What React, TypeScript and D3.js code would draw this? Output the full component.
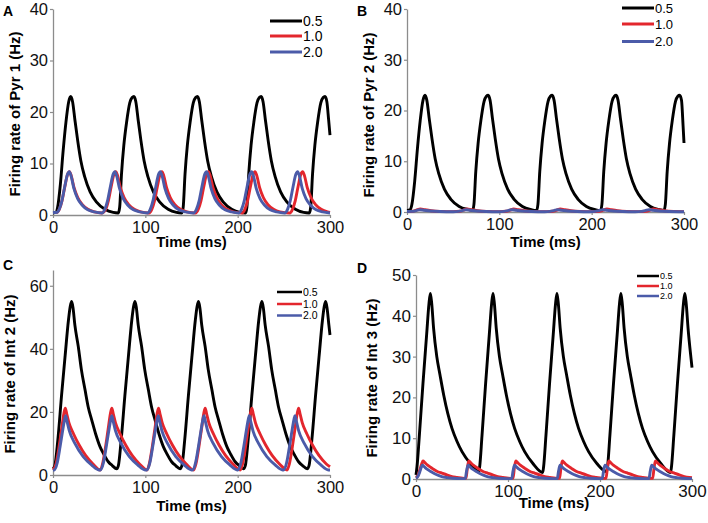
import React, { useRef, useEffect } from "react";
import * as d3 from "d3";

type Pt = [number, number];

// ---- data (time in ms, rate in Hz) ----
const timeTicks = [0, 100, 200, 300];
const legendLabels = ["0.5", "1.0", "2.0"];
const seriesColors = ["#000000", "#e3262d", "#4b5ba9"];
const pyrTicks = [0, 10, 20, 30, 40];
const int2Ticks = [0, 20, 40, 60];
const int3Ticks = [0, 10, 20, 30, 40, 50];

// A: Pyr 1
const pyr1At05: Pt[] = [
  [0, 0.4], [3, 0.5], [5, 1.5], [8, 6], [11, 12.5], [14, 18], [17, 22], [19.2, 23],
  [21.2, 22], [23.7, 18.5], [26.7, 14.5], [30.2, 10.5], [34.2, 7.5], [40.2, 4.5], [47.2, 2.5], [56.2, 1.1], [65.2, 0.5], [70.7, 0.4],
  [72.2, 1.5], [74.2, 8], [76.7, 13.5], [79.7, 18], [83.2, 21.8], [85.7, 22.8], [87.7, 23],
  [89.7, 22], [92.2, 18.5], [95.2, 14.5], [98.7, 10.5], [102.7, 7.5], [108.7, 4.5], [115.7, 2.5], [124.7, 1.1], [133.7, 0.5], [139.5, 0.4],
  [141, 1.5], [143, 8], [145.5, 13.5], [148.5, 18], [152, 21.8], [154.5, 22.8], [156.5, 23],
  [158.5, 22], [161, 18.5], [164, 14.5], [167.5, 10.5], [171.5, 7.5], [177.5, 4.5], [184.5, 2.5], [193.5, 1.1], [202.5, 0.5], [208.5, 0.4],
  [210, 1.5], [212, 8], [214.5, 13.5], [217.5, 18], [221, 21.8], [223.5, 22.8], [225.5, 23],
  [227.5, 22], [230, 18.5], [233, 14.5], [236.5, 10.5], [240.5, 7.5], [246.5, 4.5], [253.5, 2.5], [262.5, 1.1], [271.5, 0.5], [277.6, 0.4],
  [279.1, 1.5], [281.1, 8], [283.6, 13.5], [286.6, 18], [290.1, 21.8], [292.6, 22.8], [294.6, 23],
  [296.6, 22], [298.5, 18.5], [300, 15.5],
];
const pyr1At10: Pt[] = [
  [0, 0.5], [3.8, 0.5], [6.8, 1.1], [9.8, 2.8], [12.8, 5.5], [15.8, 7.9], [17.8, 8.4],
  [19.8, 7.6], [22.8, 5.3], [26.8, 3.4], [31.8, 2], [37.8, 1.1], [44.8, 0.6], [53, 0.4],
  [57, 1.1], [60, 2.8], [63, 5.5], [66, 7.9], [68, 8.4],
  [70, 7.6], [73, 5.3], [77, 3.4], [82, 2], [88, 1.1], [95, 0.6], [104, 0.4],
  [107, 1.1], [110, 2.8], [113, 5.5], [116, 7.9], [118, 8.4],
  [120, 7.6], [123, 5.3], [127, 3.4], [132, 2], [138, 1.1], [145, 0.6], [154.3, 0.4],
  [157.3, 1.1], [160.3, 2.8], [163.3, 5.5], [166.3, 7.9], [168.3, 8.4],
  [170.3, 7.6], [173.3, 5.3], [177.3, 3.4], [182.3, 2], [188.3, 1.1], [195.3, 0.6], [204.8, 0.4],
  [207.8, 1.1], [210.8, 2.8], [213.8, 5.5], [216.8, 7.9], [218.8, 8.4],
  [220.8, 7.6], [223.8, 5.3], [227.8, 3.4], [232.8, 2], [238.8, 1.1], [245.8, 0.6], [256.4, 0.4],
  [259.4, 1.1], [262.4, 2.8], [265.4, 5.5], [268.4, 7.9], [270.4, 8.4],
  [272.4, 7.6], [275.4, 5.3], [279.4, 3.4], [284.4, 2], [290.4, 1.1], [297.4, 0.6], [300, 0.5],
];
const pyr1At20: Pt[] = [
  [0, 0.5], [3.7, 0.5], [6.7, 1.1], [9.7, 2.8], [12.7, 5.5], [15.7, 7.9], [17.7, 8.4],
  [19.7, 7.5], [22.7, 5.1], [26.7, 3.2], [31.7, 1.9], [37.7, 1], [44.7, 0.6], [53.1, 0.4],
  [56.1, 1.1], [59.1, 2.8], [62.1, 5.5], [65.1, 7.9], [67.1, 8.4],
  [69.1, 7.5], [72.1, 5.1], [76.1, 3.2], [81.1, 1.9], [87.1, 1], [94.1, 0.6], [102.3, 0.4],
  [105.3, 1.1], [108.3, 2.8], [111.3, 5.5], [114.3, 7.9], [116.3, 8.4],
  [118.3, 7.5], [121.3, 5.1], [125.3, 3.2], [130.3, 1.9], [136.3, 1], [143.3, 0.6], [152.3, 0.4],
  [155.3, 1.1], [158.3, 2.8], [161.3, 5.5], [164.3, 7.9], [166.3, 8.4],
  [168.3, 7.5], [171.3, 5.1], [175.3, 3.2], [180.3, 1.9], [186.3, 1], [193.3, 0.6], [201.2, 0.4],
  [204.2, 1.1], [207.2, 2.8], [210.2, 5.5], [213.2, 7.9], [215.2, 8.4],
  [217.2, 7.5], [220.2, 5.1], [224.2, 3.2], [229.2, 1.9], [235.2, 1], [242.2, 0.6], [251, 0.4],
  [254, 1.1], [257, 2.8], [260, 5.5], [263, 7.9], [265, 8.4],
  [267, 7.5], [270, 5.1], [274, 3.2], [279, 1.9], [285, 1], [292, 0.6], [300, 0.4],
];

// B: Pyr 2
const pyr2At05: Pt[] = [
  [0, 0.3], [3, 0.4], [5.3, 1.5], [8.3, 6], [11.3, 12.5], [14.3, 18], [17.3, 22], [19.5, 23],
  [21.5, 22], [24, 18.5], [27, 14.5], [30.5, 10.5], [34.5, 7.5], [40.5, 4.5], [47.5, 2.5], [56.5, 1.1], [65.5, 0.5], [71, 0.3],
  [72.5, 1.5], [74.5, 8], [77, 13.5], [80, 18], [83.5, 21.8], [86, 22.8], [88, 23],
  [90, 22], [92.5, 18.5], [95.5, 14.5], [99, 10.5], [103, 7.5], [109, 4.5], [116, 2.5], [125, 1.1], [134, 0.5], [140.3, 0.3],
  [141.8, 1.5], [143.8, 8], [146.3, 13.5], [149.3, 18], [152.8, 21.8], [155.3, 22.8], [157.3, 23],
  [159.3, 22], [161.8, 18.5], [164.8, 14.5], [168.3, 10.5], [172.3, 7.5], [178.3, 4.5], [185.3, 2.5], [194.3, 1.1], [203.3, 0.5], [209.6, 0.3],
  [211.1, 1.5], [213.1, 8], [215.6, 13.5], [218.6, 18], [222.1, 21.8], [224.6, 22.8], [226.6, 23],
  [228.6, 22], [231.1, 18.5], [234.1, 14.5], [237.6, 10.5], [241.6, 7.5], [247.6, 4.5], [254.6, 2.5], [263.6, 1.1], [272.6, 0.5], [278.3, 0.3],
  [279.8, 1.5], [281.8, 8], [284.3, 13.5], [287.3, 18], [290.8, 21.8], [293.3, 22.8], [295.3, 23],
  [297.3, 22], [299, 17], [300, 13.6],
];
const pyr2At10: Pt[] = [
  [0, 0.1], [6, 0.15], [10, 0.35], [14.5, 0.6], [19, 0.45], [26, 0.25], [36, 0.12], [50, 0.08],
  [57, 0.15], [61, 0.35], [65, 0.6], [69.5, 0.45], [76.5, 0.25], [86.5, 0.12], [100, 0.08],
  [107.5, 0.15], [111.5, 0.35], [115.5, 0.6], [120, 0.45], [127, 0.25], [137, 0.12], [151, 0.08],
  [158, 0.15], [162, 0.35], [166, 0.6], [170.5, 0.45], [177.5, 0.25], [187.5, 0.12], [201, 0.08],
  [208.5, 0.15], [212.5, 0.35], [216.5, 0.6], [221, 0.45], [228, 0.25], [238, 0.12], [252, 0.08],
  [259, 0.15], [263, 0.35], [267, 0.6], [271.5, 0.45], [278.5, 0.25], [288.5, 0.12], [300, 0.08],
];
const pyr2At20: Pt[] = [
  [0, 0.1], [6, 0.12], [10, 0.28], [14, 0.45], [18.5, 0.35], [25.5, 0.2], [35.5, 0.1], [50, 0.06],
  [56, 0.12], [60, 0.28], [64, 0.45], [68.5, 0.35], [75.5, 0.2], [85.5, 0.1], [99, 0.06],
  [105.5, 0.12], [109.5, 0.28], [113.5, 0.45], [118, 0.35], [125, 0.2], [135, 0.1], [149, 0.06],
  [155, 0.12], [159, 0.28], [163, 0.45], [167.5, 0.35], [174.5, 0.2], [184.5, 0.1], [198, 0.06],
  [204, 0.12], [208, 0.28], [212, 0.45], [216.5, 0.35], [223.5, 0.2], [233.5, 0.1], [247, 0.06],
  [254, 0.12], [258, 0.28], [262, 0.45], [266.5, 0.35], [273.5, 0.2], [283.5, 0.1], [300, 0.06],
];

// C: Int 2
const int2At05: Pt[] = [
  [0, 2], [2, 3], [5.2, 11], [9.2, 25], [13.2, 38], [16.7, 49], [18.7, 53.5], [20.2, 55],
  [21.7, 53], [23.7, 47.5], [27.4, 40.7], [30.7, 33.5], [34.7, 27], [38.2, 21.5], [41.9, 17.5], [46.2, 13], [50.9, 9], [55.2, 6.5], [59.9, 4.2], [64.2, 3], [69, 2],
  [70.8, 3], [73.8, 11], [77.8, 25], [81.8, 38], [85.3, 49], [87.3, 53.5], [88.8, 55],
  [90.3, 53], [92.3, 47.5], [96, 40.7], [99.3, 33.5], [103.3, 27], [106.8, 21.5], [110.5, 17.5], [114.8, 13], [119.5, 9], [123.8, 6.5], [128.5, 4.2], [132.8, 3], [137.6, 2],
  [139.6, 3], [142.6, 11], [146.6, 25], [150.6, 38], [154.1, 49], [156.1, 53.5], [157.6, 55],
  [159.1, 53], [161.1, 47.5], [164.8, 40.7], [168.1, 33.5], [172.1, 27], [175.6, 21.5], [179.3, 17.5], [183.6, 13], [188.3, 9], [192.6, 6.5], [197.3, 4.2], [201.6, 3], [206.3, 2],
  [208.3, 3], [211.3, 11], [215.3, 25], [219.3, 38], [222.8, 49], [224.8, 53.5], [226.3, 55],
  [227.8, 53], [229.8, 47.5], [233.5, 40.7], [236.8, 33.5], [240.8, 27], [244.3, 21.5], [248, 17.5], [252.3, 13], [257, 9], [261.3, 6.5], [266, 4.2], [270.3, 3], [275.3, 2],
  [277.3, 3], [280.3, 11], [284.3, 25], [288.3, 38], [291.8, 49], [293.8, 53.5], [295.3, 55],
  [296.8, 53], [298.8, 47.5], [300, 44.4],
];
const int2At10: Pt[] = [
  [0, 1.6], [3.3, 3.5], [6.3, 8.5], [9.3, 14.5], [11.8, 19.5], [13.3, 21.2],
  [14.8, 19.5], [17.3, 16.5], [22.3, 13], [28.3, 9.5], [35.3, 6.2], [43.3, 3.5], [51.2, 1.6],
  [53.7, 3.5], [56.7, 8.5], [59.7, 14.5], [62.2, 19.5], [63.7, 21.2],
  [65.2, 19.5], [67.7, 16.5], [72.7, 13], [78.7, 9.5], [85.7, 6.2], [93.7, 3.5], [101.8, 1.6],
  [104.3, 3.5], [107.3, 8.5], [110.3, 14.5], [112.8, 19.5], [114.3, 21.2],
  [115.8, 19.5], [118.3, 16.5], [123.3, 13], [129.3, 9.5], [136.3, 6.2], [144.3, 3.5], [152.3, 1.6],
  [154.8, 3.5], [157.8, 8.5], [160.8, 14.5], [163.3, 19.5], [164.8, 21.2],
  [166.3, 19.5], [168.8, 16.5], [173.8, 13], [179.8, 9.5], [186.8, 6.2], [194.8, 3.5], [202.8, 1.6],
  [205.3, 3.5], [208.3, 8.5], [211.3, 14.5], [213.8, 19.5], [215.3, 21.2],
  [216.8, 19.5], [219.3, 16.5], [224.3, 13], [230.3, 9.5], [237.3, 6.2], [245.3, 3.5], [253.5, 1.6],
  [256, 3.5], [259, 8.5], [262, 14.5], [264.5, 19.5], [266, 21.2],
  [267.5, 19.5], [270, 16.5], [275, 13], [281, 9.5], [288, 6.2], [296, 3.5], [300, 2.6],
];
const int2At20: Pt[] = [
  [0, 1.6], [1.2, 1.6], [4.7, 4], [7.7, 9], [10.7, 14.5], [12.7, 17.8], [13.7, 18.8],
  [15.2, 17], [17.7, 14], [23.7, 10], [32.7, 5.8], [41.7, 3.2], [49.7, 1.6], [51.2, 1.6],
  [54.7, 4], [57.7, 9], [60.7, 14.5], [62.7, 17.8], [63.7, 18.8],
  [65.2, 17], [67.7, 14], [73.7, 10], [82.7, 5.8], [91.7, 3.2], [99.7, 1.6], [101.5, 1.6],
  [105, 4], [108, 9], [111, 14.5], [113, 17.8], [114, 18.8],
  [115.5, 17], [118, 14], [124, 10], [133, 5.8], [142, 3.2], [150, 1.6], [151, 1.6],
  [154.5, 4], [157.5, 9], [160.5, 14.5], [162.5, 17.8], [163.5, 18.8],
  [165, 17], [167.5, 14], [173.5, 10], [182.5, 5.8], [191.5, 3.2], [199.5, 1.6], [200.1, 1.6],
  [203.6, 4], [206.6, 9], [209.6, 14.5], [211.6, 17.8], [212.6, 18.8],
  [214.1, 17], [216.6, 14], [222.6, 10], [231.6, 5.8], [240.6, 3.2], [248.6, 1.6], [249.6, 1.6],
  [253.1, 4], [256.1, 9], [259.1, 14.5], [261.1, 17.8], [262.1, 18.8],
  [263.6, 17], [266.1, 14], [272.1, 10], [281.1, 5.8], [290.1, 3.2], [298.1, 1.6], [300, 1.6],
];

// D: Int 3
const int3At05: Pt[] = [
  [0, 1], [1.1, 3], [3.6, 10.5], [7.6, 23.5], [11.6, 35.5], [14.1, 43], [15.6, 45.5],
  [17.1, 43], [19.1, 37], [22.6, 30], [26.1, 25.5], [30.1, 20.6], [34.6, 16], [39.1, 12.4], [44.6, 9.2], [50, 6.7], [59, 3.8], [68.2, 1.8],
  [69.2, 3], [71.7, 10.5], [75.7, 23.5], [79.7, 35.5], [82.2, 43], [83.7, 45.5],
  [85.2, 43], [87.2, 37], [90.7, 30], [94.2, 25.5], [98.2, 20.6], [102.7, 16], [107.2, 12.4], [112.7, 9.2], [118.1, 6.7], [127.1, 3.8], [137.7, 1.6],
  [138.7, 3], [141.2, 10.5], [145.2, 23.5], [149.2, 35.5], [151.7, 43], [153.2, 45.5],
  [154.7, 43], [156.7, 37], [160.2, 30], [163.7, 25.5], [167.7, 20.6], [172.2, 16], [176.7, 12.4], [182.2, 9.2], [187.6, 6.7], [196.6, 3.8], [207.2, 1.8],
  [208.2, 3], [210.7, 10.5], [214.7, 23.5], [218.7, 35.5], [221.2, 43], [222.7, 45.5],
  [224.2, 43], [226.2, 37], [229.7, 30], [233.2, 25.5], [237.2, 20.6], [241.7, 16], [246.2, 12.4], [251.7, 9.2], [257.1, 6.7], [266.1, 3.8], [276.7, 1.6],
  [277.7, 3], [280.2, 10.5], [284.2, 23.5], [288.2, 35.5], [290.7, 43], [292.2, 45.5],
  [293.7, 43], [295.7, 37], [299.2, 29], [300, 27.3],
];
const int3At10: Pt[] = [
  [0, 0.3], [2, 0.8], [4.5, 2.5], [6.5, 3.9], [7.6, 4.4],
  [9.6, 4], [12.6, 3.4], [17.6, 2.6], [22.6, 1.9], [28.6, 1.4], [33.6, 1], [39.1, 0.6], [44.6, 0.4], [50.6, 0.2], [54.3, 0.15],
  [55.8, 2.6], [57.3, 4.4], [59.3, 4], [62.3, 3.4], [67.3, 2.6], [72.3, 1.9], [78.3, 1.4], [83.3, 1], [88.8, 0.6], [94.3, 0.4], [100.3, 0.2], [105.4, 0.15],
  [106.9, 2.6], [108.4, 4.4], [110.4, 4], [113.4, 3.4], [118.4, 2.6], [123.4, 1.9], [129.4, 1.4], [134.4, 1], [139.9, 0.6], [145.4, 0.4], [151.4, 0.2], [156, 0.15],
  [157.5, 2.6], [159, 4.4], [161, 4], [164, 3.4], [169, 2.6], [174, 1.9], [180, 1.4], [185, 1], [190.5, 0.6], [196, 0.4], [202, 0.2], [206.5, 0.15],
  [208, 2.6], [209.5, 4.4], [211.5, 4], [214.5, 3.4], [219.5, 2.6], [224.5, 1.9], [230.5, 1.4], [235.5, 1], [241, 0.6], [246.5, 0.4], [252.5, 0.2], [257.2, 0.15],
  [258.7, 2.6], [260.2, 4.4], [262.2, 4], [265.2, 3.4], [270.2, 2.6], [275.2, 1.9], [281.2, 1.4], [286.2, 1], [291.7, 0.6], [297.2, 0.4], [300, 0.35],
];
const int3At20: Pt[] = [
  [0, 0.2], [2, 0.6], [4.5, 2], [6, 3], [7, 3.4],
  [9, 3], [12, 2.4], [17, 1.7], [22, 1.1], [28, 0.6], [34, 0.35], [40, 0.2], [49, 0.1], [53.5, 0.1],
  [55, 2], [56.5, 3.4], [58.5, 3], [61.5, 2.4], [66.5, 1.7], [71.5, 1.1], [77.5, 0.6], [83.5, 0.35], [89.5, 0.2], [98.5, 0.1], [104, 0.1],
  [105.5, 2], [107, 3.4], [109, 3], [112, 2.4], [117, 1.7], [122, 1.1], [128, 0.6], [134, 0.35], [140, 0.2], [149, 0.1], [153.5, 0.1],
  [155, 2], [156.5, 3.4], [158.5, 3], [161.5, 2.4], [166.5, 1.7], [171.5, 1.1], [177.5, 0.6], [183.5, 0.35], [189.5, 0.2], [198.5, 0.1], [202.4, 0.1],
  [203.9, 2], [205.4, 3.4], [207.4, 3], [210.4, 2.4], [215.4, 1.7], [220.4, 1.1], [226.4, 0.6], [232.4, 0.35], [238.4, 0.2], [247.4, 0.1], [253.2, 0.1],
  [254.7, 2], [256.2, 3.4], [258.2, 3], [261.2, 2.4], [266.2, 1.7], [271.2, 1.1], [277.2, 0.6], [283.2, 0.35], [289.2, 0.2], [298.2, 0.1], [300, 0.1],
];

const panels = [
  { letter: "A", series: [pyr1At05, pyr1At10, pyr1At20], yMax: 40, yTicks: pyrTicks, yTitle: "Firing rate of Pyr 1 (Hz)" },
  { letter: "B", series: [pyr2At05, pyr2At10, pyr2At20], yMax: 40, yTicks: pyrTicks, yTitle: "Firing rate of Pyr 2 (Hz)" },
  { letter: "C", series: [int2At05, int2At10, int2At20], yMax: 65, yTicks: int2Ticks, yTitle: "Firing rate of Int 2 (Hz)" },
  { letter: "D", series: [int3At05, int3At10, int3At20], yMax: 50, yTicks: int3Ticks, yTitle: "Firing rate of Int 3 (Hz)" },
];

// page geometry for each panel
const layouts = [
  { left: 53, right: 330, bottom: 215, top: 9, letterX: 3, letterY: 16, titleX: 15, titleY: 114, xTitleY: 247,
    legX0: 270, legX1: 302, legY: [21, 36, 52], legFont: 14, legStroke: 3, tickFont: 16.5 },
  { left: 407, right: 684, bottom: 212, top: 9, letterX: 357, letterY: 16, titleX: 369, titleY: 115, xTitleY: 247,
    legX0: 622, legX1: 654, legY: [8, 24, 41.5], legFont: 13, legStroke: 3, tickFont: 16.5 },
  { left: 53, right: 330, bottom: 475, top: 270, letterX: 3, letterY: 270, titleX: 10, titleY: 374, xTitleY: 511,
    legX0: 277, legX1: 302, legY: [292, 304, 315.5], legFont: 10.5, legStroke: 2.5, tickFont: 16.5 },
  { left: 416, right: 692, bottom: 479, top: 275, letterX: 357, letterY: 273, titleX: 372, titleY: 378, xTitleY: 508,
    legX0: 637, legX1: 659, legY: [276, 286, 296], legFont: 9, legStroke: 2.5, tickFont: 17 },
];

const FONT = "'Liberation Sans', Arial, Helvetica, sans-serif";

const App: React.FC = () => {
  const svgRef = useRef<SVGSVGElement>(null);

  useEffect(() => {
    if (!svgRef.current) return;
    const svg = d3.select(svgRef.current);
    svg.selectAll("*").remove();

    panels.forEach((p, i) => {
      const L = layouts[i];
      const x = d3.scaleLinear().domain([0, 300]).range([L.left, L.right]);
      const y = d3.scaleLinear().domain([0, p.yMax]).range([L.bottom, L.top]);
      const g = svg.append("g");

      const xAxis = g.append("g")
        .attr("transform", `translate(0,${L.bottom})`)
        .call(d3.axisBottom(x).tickValues(timeTicks).tickSize(3).tickSizeOuter(0).tickPadding(3));
      const yAxis = g.append("g")
        .attr("transform", `translate(${L.left},0)`)
        .call(d3.axisLeft(y).tickValues(p.yTicks).tickSize(3).tickSizeOuter(0).tickPadding(2));

      [xAxis, yAxis].forEach((a) => {
        a.select(".domain").attr("stroke", "#8c8c8c").attr("stroke-width", 1.3);
        a.selectAll(".tick line").attr("stroke", "#8c8c8c").attr("stroke-width", 1.2);
        a.selectAll(".tick text")
          .attr("fill", "#111")
          .style("font-family", FONT)
          .style("font-size", `${L.tickFont}px`);
      });

      const line = d3.line<Pt>()
        .x((d) => x(d[0]))
        .y((d) => y(d[1]))
        .curve(d3.curveMonotoneX);

      p.series.forEach((s, k) => {
        g.append("path")
          .datum(s)
          .attr("fill", "none")
          .attr("stroke", seriesColors[k])
          .attr("stroke-width", 2.9)
          .attr("stroke-linejoin", "round")
          .attr("d", line);
      });

      // legend
      legendLabels.forEach((lab, k) => {
        g.append("line")
          .attr("x1", L.legX0).attr("x2", L.legX1)
          .attr("y1", L.legY[k]).attr("y2", L.legY[k])
          .attr("stroke", seriesColors[k])
          .attr("stroke-width", L.legStroke);
        g.append("text")
          .attr("x", L.legX1 + 1)
          .attr("y", L.legY[k])
          .attr("dy", "0.36em")
          .style("font-family", FONT)
          .style("font-size", `${L.legFont}px`)
          .text(lab);
      });

      g.append("text")
        .attr("x", (L.left + L.right) / 2)
        .attr("y", L.xTitleY)
        .attr("text-anchor", "middle")
        .style("font-family", FONT)
        .style("font-weight", "bold")
        .style("font-size", "15px")
        .text("Time (ms)");

      g.append("text")
        .attr("transform", `translate(${L.titleX},${L.titleY}) rotate(-90)`)
        .attr("text-anchor", "middle")
        .attr("dy", "0.35em")
        .style("font-family", FONT)
        .style("font-weight", "bold")
        .style("font-size", "15px")
        .text(p.yTitle);

      g.append("text")
        .attr("x", L.letterX)
        .attr("y", L.letterY)
        .style("font-family", FONT)
        .style("font-weight", "bold")
        .style("font-size", "14px")
        .text(p.letter);
    });

    return () => {
      svg.selectAll("*").remove();
    };
  }, []);

  return (
    <svg
      ref={svgRef}
      width={708}
      height={523}
      style={{ position: "absolute", left: 0, top: 0, background: "#fff" }}
    ></svg>
  );
};

export default App;
